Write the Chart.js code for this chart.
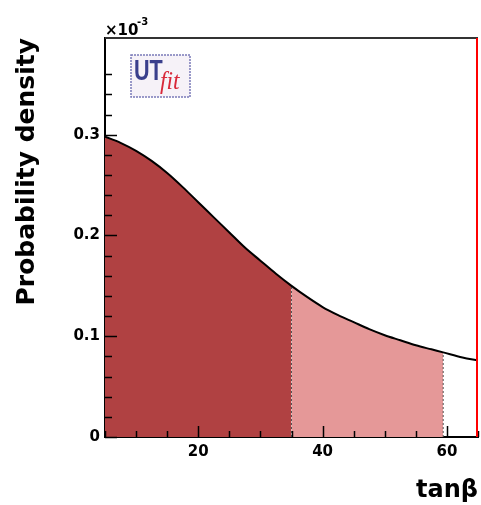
<!DOCTYPE html>
<html>
<head>
<meta charset="utf-8">
<script src="https://cdn.jsdelivr.net/npm/chart.js@4.4.0/dist/chart.umd.min.js"></script>
<style>
  html, body { margin: 0; padding: 0; background: #fff; }
  #wrap { width: 481px; height: 505px; position: relative; }
</style>
</head>
<body>
<div id="wrap"><canvas id="grafico"></canvas></div>
<script>
// tan(beta) e densidade (unidades de 1e-3)
var tanBeta = [5, 7.5, 10, 12.5, 15, 17.5, 20, 22.5, 25, 27.5, 30, 32.5, 35, 37.5, 40, 42.5, 45, 47.5, 50, 52.5, 55, 57.5, 59.4, 62.5, 65]
var densidade = [0.298, 0.292, 0.284, 0.274, 0.262, 0.248, 0.233, 0.218, 0.203, 0.188, 0.175, 0.162, 0.150, 0.139, 0.129, 0.121, 0.114, 0.107, 0.101, 0.096, 0.091, 0.087, 0.084, 0.079, 0.076]
var limite68 = 35
var limite95 = 59.4
var xLabels = [20, 40, 60]
var yLabels = [0, 0.1, 0.2, 0.3]

var fonte = "'DejaVu Sans', sans-serif"

var pontos = tanBeta.map(function(x, i){ return { x: x, y: densidade[i] } })
var escuro = pontos.filter(function(p){ return p.x <= limite68 })
var claro = pontos.filter(function(p){ return p.x >= limite68 && p.x <= limite95 })

function linhaVertical(x){
    var y = densidade[tanBeta.indexOf(x)]
    return [{ x: x, y: 0 }, { x: x, y: y }]
}

function ehMultiplo(v, passo){
    return Math.abs(v / passo - Math.round(v / passo)) < 1e-6
}

// ticks desenhados para dentro, estilo ROOT, e moldura
var moldura = {
    id: 'moldura',
    afterDatasetsDraw(chart){
        var ctx = chart.ctx, area = chart.chartArea
        var sx = chart.scales.x, sy = chart.scales.y
        ctx.save()
        ctx.strokeStyle = '#000'
        ctx.lineWidth = 1.5
        sy.ticks.forEach(function(t){
            if (!ehMultiplo(t.value, 0.02)) return
            var py = Math.round(sy.getPixelForValue(t.value)) + 0.5
            var len = ehMultiplo(t.value, 0.1) ? 12 : 7
            ctx.beginPath(); ctx.moveTo(area.left, py); ctx.lineTo(area.left + len, py); ctx.stroke()
        })
        sx.ticks.forEach(function(t){
            if (!ehMultiplo(t.value, 5)) return
            var px = Math.round(sx.getPixelForValue(t.value)) + 0.5
            var len = ehMultiplo(t.value, 20) ? 11 : 6
            ctx.beginPath(); ctx.moveTo(px, area.bottom); ctx.lineTo(px, area.bottom - len); ctx.stroke()
        })
        ctx.lineWidth = 2
        ctx.strokeStyle = '#333'
        ctx.beginPath(); ctx.moveTo(area.left, area.top); ctx.lineTo(area.right, area.top); ctx.stroke()
        ctx.strokeStyle = '#ff0000'
        ctx.beginPath(); ctx.moveTo(area.right - 1, area.top); ctx.lineTo(area.right - 1, area.bottom); ctx.stroke()
        ctx.restore()
    },
    afterDraw(chart){
        var ctx = chart.ctx, area = chart.chartArea
        ctx.save()
        // x10^-3
        ctx.fillStyle = '#000'
        ctx.textBaseline = 'alphabetic'
        ctx.font = 'bold 15px ' + fonte
        ctx.fillText('\u00d710', area.left, 35)
        ctx.font = 'bold 10px ' + fonte
        ctx.fillText('-3', area.left + 32, 25)
        // logo UTfit
        ctx.fillStyle = '#f6f2f8'
        ctx.fillRect(131, 55, 59, 42)
        ctx.strokeStyle = '#7a7ab8'
        ctx.lineWidth = 1.5
        ctx.setLineDash([2, 1])
        ctx.strokeRect(131, 55, 59, 42)
        ctx.setLineDash([])
        ctx.save()
        ctx.translate(134, 80)
        ctx.scale(0.72, 1)
        ctx.fillStyle = '#3a3f8c'
        ctx.font = "bold 30px 'Liberation Sans', sans-serif"
        ctx.fillText('UT', 0, 0)
        ctx.restore()
        ctx.save()
        ctx.translate(160, 89)
        ctx.scale(0.9, 1)
        ctx.fillStyle = '#d8283a'
        ctx.font = "italic 26px 'Liberation Serif', serif"
        ctx.fillText('fit', 0, 0)
        ctx.restore()
        ctx.restore()
    }
}

new Chart(document.getElementById('grafico'), {
    type: 'line',
    data: {
        datasets: [
            {
                data: pontos,
                borderColor: '#000',
                borderWidth: 2,
                pointRadius: 0,
                fill: false,
                cubicInterpolationMode: 'monotone',
                order: 0
            },
            {
                data: linhaVertical(limite68),
                borderColor: '#555',
                borderWidth: 1,
                borderDash: [2, 2],
                pointRadius: 0,
                fill: false,
                order: 1
            },
            {
                data: linhaVertical(limite95),
                borderColor: '#555',
                borderWidth: 1,
                borderDash: [2, 2],
                pointRadius: 0,
                fill: false,
                order: 1
            },
            {
                data: escuro,
                backgroundColor: '#b04142',
                borderWidth: 0,
                pointRadius: 0,
                fill: 'origin',
                cubicInterpolationMode: 'monotone',
                order: 2
            },
            {
                data: claro,
                backgroundColor: '#e59898',
                borderWidth: 0,
                pointRadius: 0,
                fill: 'origin',
                cubicInterpolationMode: 'monotone',
                order: 2
            }
        ]
    },
    options: {
        responsive: true,
        maintainAspectRatio: false,
        animation: false,
        layout: { padding: { top: 38, right: 3, left: 0, bottom: 0 } },
        plugins: { legend: { display: false }, tooltip: { enabled: false } },
        scales: {
            x: {
                type: 'linear',
                min: 5,
                max: 65,
                afterFit: function(s){ s.height = 68; s.paddingLeft = 0; s.paddingRight = 0 },
                grid: { display: false, drawTicks: false },
                border: { display: true, color: '#000', width: 2 },
                ticks: {
                    stepSize: 5,
                    autoSkip: false,
                    maxRotation: 0,
                    padding: 6,
                    color: '#000',
                    font: { family: fonte, size: 15, weight: 'bold' },
                    callback: function(v){ return xLabels.indexOf(Math.round(v)) >= 0 && ehMultiplo(v, 20) ? String(Math.round(v)) : '' }
                },
                title: {
                    display: true,
                    text: 'tan\u03b2',
                    align: 'end',
                    color: '#000',
                    padding: { top: 0, bottom: 0 },
                    font: { family: fonte, size: 24, weight: 'bold' }
                }
            },
            y: {
                min: 0,
                max: 0.396,
                afterFit: function(s){ s.width = 105; s.paddingTop = 0; s.paddingBottom = 0 },
                grid: { display: false, drawTicks: false },
                border: { display: true, color: '#000', width: 2 },
                ticks: {
                    stepSize: 0.02,
                    autoSkip: false,
                    padding: 5,
                    color: '#000',
                    font: { family: fonte, size: 15, weight: 'bold' },
                    callback: function(v){
                        if (!ehMultiplo(v, 0.1)) return ''
                        var r = Math.round(v * 10) / 10
                        if (yLabels.indexOf(r) < 0) return ''
                        return r === 0 ? '0' : r.toFixed(1)
                    }
                },
                title: {
                    display: true,
                    text: 'Probability density',
                    align: 'end',
                    color: '#000',
                    padding: { top: 12, bottom: 0 },
                    font: { family: fonte, size: 25, weight: 'bold' }
                }
            }
        }
    },
    plugins: [moldura]
})
</script>
</body>
</html>
